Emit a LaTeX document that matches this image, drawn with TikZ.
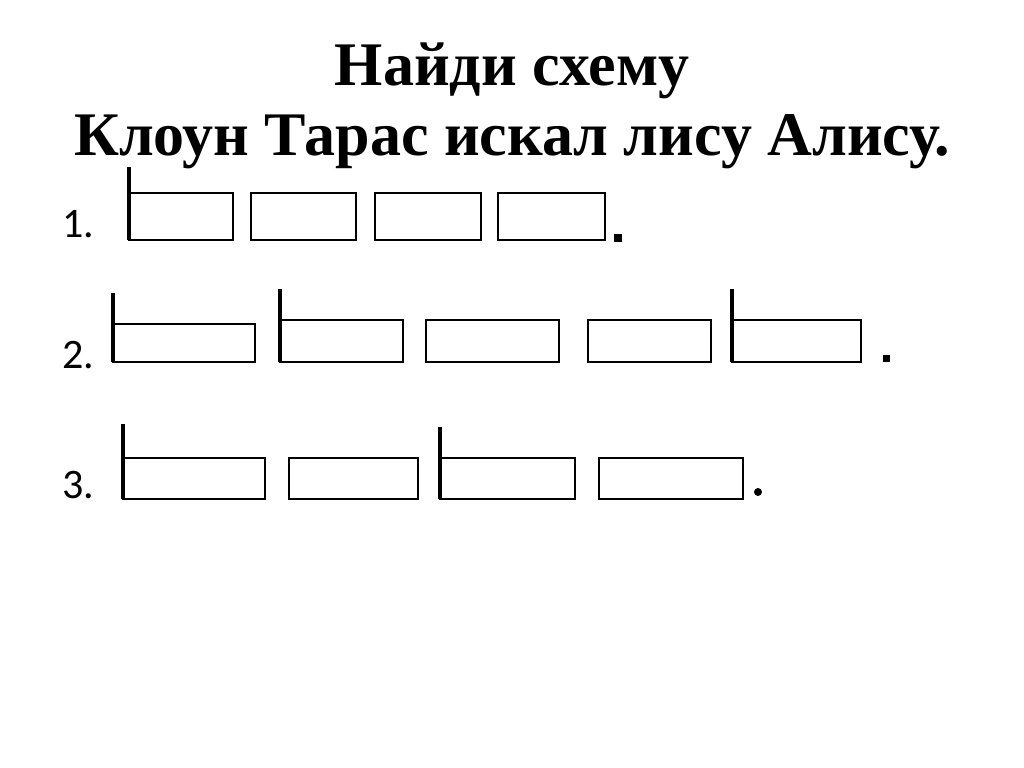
\documentclass[tikz,border=0pt]{standalone}
\usepackage{fontspec}
\setmainfont{Liberation Serif}
\newfontfamily\numfont{Carlito}
\tikzset{
  wordbox/.style={line width=1.1pt},
  capbar/.style={line width=2pt},
  rownum/.style={anchor=base west,inner sep=0pt,font=\numfont\fontsize{21}{24}\selectfont},
  headline/.style={anchor=base,inner sep=0pt,font=\bfseries\fontsize{31}{35}\selectfont}
}
\begin{document}
\begin{tikzpicture}[x=0.5pt,y=-0.5pt]
  \useasboundingbox (0,0) rectangle (1024,767);
  \node[headline] (head1) at (512,85) {Найди схему};
  \node[headline] (head2) at (512,155) {Клоун Тарас искал лису Алису.};
  \node[rownum] (n1) at (62,237) {1.};
  \node[rownum] (n2) at (62,368) {2.};
  \node[rownum] (n3) at (62,498) {3.};
  \foreach \a/\b in {129/233,251/356,375/481,498/605}
    \draw[wordbox] (\a,193) rectangle (\b,240);
  \draw[capbar] (129,167)--(129,240);
  \fill (614,234) rectangle (622,242);
  \draw[wordbox] (113,324) rectangle (255,362);
  \foreach \a/\b in {280/403,426/559,588/711,732/861}
    \draw[wordbox] (\a,320) rectangle (\b,362);
  \draw[capbar] (113,293)--(113,362);
  \draw[capbar] (280,289)--(280,362);
  \draw[capbar] (732,289)--(732,362);
  \fill (883,355) rectangle (890,362);
  \foreach \a/\b in {123/265,289/418,440/575,599/743}
    \draw[wordbox] (\a,458) rectangle (\b,499);
  \draw[capbar] (123,424)--(123,499);
  \draw[capbar] (440,427)--(440,499);
  \fill (758,492) circle (4);
\end{tikzpicture}
\end{document}
